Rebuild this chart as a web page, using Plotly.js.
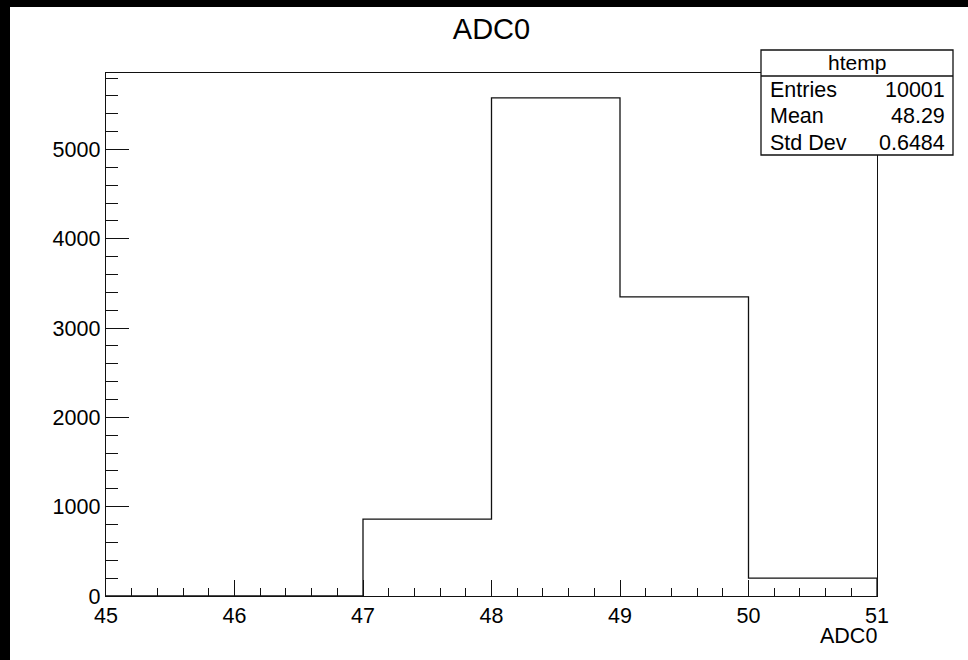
<!DOCTYPE html>
<html>
<head>
<meta charset="utf-8">
<script src="https://cdn.plot.ly/plotly-3.0.1.min.js"></script>
<style>
  html, body { margin: 0; padding: 0; background: #fff; }
  #wrap { width: 958px; height: 653px; border-left: 10px solid #000; border-top: 7px solid #000; }
  #plot { width: 958px; height: 653px; }
</style>
</head>
<body>
<div id="wrap"><div id="plot"></div></div>
<script>
// Histogram data (ADC0)
const binEdges = [45, 46, 47, 48, 49, 50, 51];
const binCounts = [0, 0, 862, 5578, 3350, 200];

// Stats box content
const statsTitle = "htemp";
const statsLabels = ["Entries", "Mean", "Std Dev"];
const statsValues = ["10001", "48.29", "0.6484"];

const chartTitle = "ADC0";
const xAxisTitle = "ADC0";

// Step-line (histogram outline) built from bin edges and counts
const stepX = binEdges.slice();
const stepY = binCounts.concat([binCounts[binCounts.length - 1]]);
stepX.push(binEdges[binEdges.length - 1]);
stepY.push(0);

const maxCount = Math.max.apply(null, binCounts);
const xRange = [binEdges[0], binEdges[binEdges.length - 1]];
const yRange = [0, maxCount * 1.05];

// Geometry helpers (image pixel -> paper coords)
const W = 958, H = 653;
const M = { l: 96, r: 91, t: 66, b: 64 };
const PW = W - M.l - M.r, PH = H - M.t - M.b;
const px = x => (x - 10 - M.l) / PW;
const py = y => (596 - y) / PH;

const FONT = '"Liberation Sans", Arial, Helvetica, sans-serif';
const LC = '#111';

const trace = {
  type: 'scatter',
  mode: 'lines',
  x: stepX,
  y: stepY,
  line: { shape: 'hv', color: LC, width: 1.3 },
  hoverinfo: 'x+y',
  showlegend: false
};

const shapes = [
  { type: 'rect', xref: 'paper', yref: 'paper', x0: px(761), x1: px(953), y0: py(155), y1: py(50),
    fillcolor: '#fff', line: { color: LC, width: 1.3 }, layer: 'above' },
  { type: 'line', xref: 'paper', yref: 'paper', x0: px(761), x1: px(953), y0: py(76), y1: py(76),
    line: { color: LC, width: 1.3 }, layer: 'above' }
];

const annotations = [
  { text: statsTitle, xref: 'paper', yref: 'paper', x: px(857), y: py(63),
    xanchor: 'center', yanchor: 'middle', showarrow: false, font: { family: FONT, size: 21, color: '#000' } }
];
const rowY = [90, 116, 142.5];
for (let i = 0; i < statsLabels.length; i++) {
  annotations.push({ text: statsLabels[i], xref: 'paper', yref: 'paper', x: px(768), y: py(rowY[i]),
    xanchor: 'left', yanchor: 'middle', showarrow: false, font: { family: FONT, size: 21.5, color: '#000' } });
  annotations.push({ text: statsValues[i], xref: 'paper', yref: 'paper', x: px(947), y: py(rowY[i]),
    xanchor: 'right', yanchor: 'middle', showarrow: false, font: { family: FONT, size: 21.5, color: '#000' } });
}
annotations.push({ text: xAxisTitle, xref: 'paper', yref: 'paper', x: px(879), y: py(636),
  xanchor: 'right', yanchor: 'middle', showarrow: false, font: { family: FONT, size: 21.5, color: '#000' } });

const layout = {
  width: W, height: H,
  margin: M,
  paper_bgcolor: '#fff',
  plot_bgcolor: '#fff',
  font: { family: FONT, size: 21, color: '#000' },
  title: { text: chartTitle, font: { family: FONT, size: 29, color: '#000' },
    xref: 'container', x: (491.5 - 10) / W, xanchor: 'center',
    yref: 'container', y: 1 - (29 - 7) / H, yanchor: 'middle' },
  xaxis: {
    range: xRange, dtick: 1, tick0: 45,
    ticks: 'inside', ticklen: 16, tickwidth: 1, tickcolor: LC,
    minor: { ticks: 'inside', ticklen: 8, dtick: 0.2, tick0: 45, tickwidth: 1, tickcolor: LC, showgrid: false },
    showline: true, linecolor: LC, linewidth: 1.3, mirror: true,
    showgrid: false, zeroline: false,
    tickfont: { family: FONT, size: 21.5, color: '#000' }
  },
  yaxis: {
    range: yRange, dtick: 1000, tick0: 0,
    ticks: 'inside', ticklen: 23, tickwidth: 1, tickcolor: LC,
    minor: { ticks: 'inside', ticklen: 12, dtick: 200, tick0: 0, tickwidth: 1, tickcolor: LC, showgrid: false },
    showline: true, linecolor: LC, linewidth: 1.3, mirror: true,
    showgrid: false, zeroline: false,
    tickfont: { family: FONT, size: 21.5, color: '#000' }
  },
  shapes: shapes,
  annotations: annotations,
  showlegend: false
};

Plotly.newPlot('plot', [trace], layout, { displayModeBar: false, staticPlot: true });
</script>
</body>
</html>
